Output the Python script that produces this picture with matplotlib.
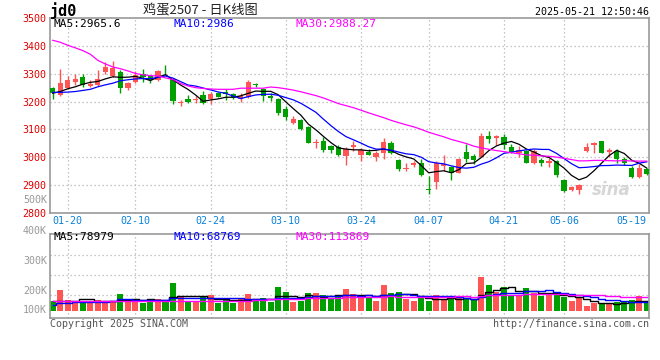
import numpy as np
import pandas as pd
import matplotlib
matplotlib.use('Agg')
import matplotlib.pyplot as plt

# trading days shown (jd2507 daily K)
dates = ['01-16', '01-17', '01-20', '01-21', '01-22', '01-23', '01-24', '01-27',
         '02-05', '02-06', '02-07', '02-10', '02-11', '02-12', '02-13', '02-14',
         '02-17', '02-18', '02-19', '02-20', '02-21', '02-24', '02-25', '02-26',
         '02-27', '02-28', '03-03', '03-04', '03-05', '03-06', '03-07', '03-10',
         '03-11', '03-12', '03-13', '03-14', '03-17', '03-18', '03-19', '03-20',
         '03-21', '03-24', '03-25', '03-26', '03-27', '03-28', '03-31', '04-01',
         '04-02', '04-03', '04-07', '04-08', '04-09', '04-10', '04-11', '04-14',
         '04-15', '04-16', '04-17', '04-18', '04-21', '04-22', '04-23', '04-24',
         '04-25', '04-28', '04-29', '04-30', '05-06', '05-07', '05-08', '05-09',
         '05-12', '05-13', '05-14', '05-15', '05-16', '05-19', '05-20', '05-21']

open_ = [3249, 3225, 3249, 3270, 3287, 3256, 3261, 3305, 3293, 3305,
         3248, 3269, 3299, 3292, 3278, 3311, 3280, 3195, 3210, 3206,
         3224, 3208, 3232, 3234, 3228, 3208, 3218, 3263, 3245, 3220,
         3209, 3172, 3124, 3134, 3110, 3053, 3057, 3040, 3036, 3005,
         3036, 3007, 3020, 3002, 3016, 3052, 2990, 2958, 2974, 2981,
         2886, 2913, 2970, 2966, 2945, 3020, 3006, 3002, 3077, 3068,
         3073, 3038, 3014, 3022, 2978, 2990, 2978, 2987, 2918, 2883,
         2883, 3024, 3044, 3057, 3018, 3024, 2993, 2962, 2928, 2957]
high = [3253, 3317, 3292, 3299, 3299, 3277, 3313, 3342, 3345, 3313,
        3270, 3310, 3316, 3295, 3312, 3330, 3285, 3205, 3224, 3220,
        3239, 3235, 3236, 3244, 3230, 3232, 3279, 3268, 3247, 3230,
        3212, 3184, 3148, 3136, 3111, 3064, 3072, 3043, 3044, 3036,
        3057, 3032, 3029, 3024, 3069, 3059, 2993, 2978, 2988, 2993,
        2933, 2985, 3008, 2968, 2996, 3046, 3012, 3088, 3094, 3080,
        3084, 3046, 3040, 3026, 3030, 2996, 2997, 2992, 2922, 2896,
        2903, 3050, 3056, 3058, 3034, 3030, 3000, 2968, 2975, 2960]
low = [3208, 3220, 3244, 3260, 3253, 3251, 3257, 3299, 3289, 3230,
       3242, 3265, 3271, 3266, 3275, 3295, 3190, 3184, 3195, 3196,
       3193, 3191, 3215, 3205, 3210, 3197, 3213, 3253, 3202, 3203,
       3153, 3134, 3119, 3098, 3050, 3032, 3020, 3016, 3004, 2973,
       3024, 2988, 3007, 2988, 2995, 3012, 2952, 2952, 2966, 2933,
       2870, 2885, 2952, 2920, 2942, 2982, 2975, 3000, 3050, 3045,
       3030, 3014, 3002, 2978, 2976, 2967, 2966, 2930, 2876, 2880,
       2868, 3020, 3014, 3015, 3002, 2978, 2972, 2927, 2925, 2938]
close = [3230, 3266, 3277, 3281, 3258, 3263, 3282, 3323, 3319, 3248,
         3266, 3296, 3290, 3277, 3310, 3309, 3203, 3199, 3197, 3210,
         3196, 3227, 3218, 3226, 3212, 3220, 3272, 3259, 3220, 3213,
         3158, 3144, 3138, 3103, 3052, 3056, 3026, 3026, 3008, 3031,
         3043, 3026, 3009, 3016, 3054, 3016, 2959, 2962, 2980, 2938,
         2883, 2980, 2977, 2944, 2993, 2994, 2990, 3076, 3067, 3076,
         3045, 3020, 3026, 2981, 3023, 2979, 2988, 2936, 2880, 2892,
         2900, 3036, 3052, 3016, 3027, 2993, 2981, 2930, 2962, 2940]
# volume in thousands of lots
volume = [89, 196, 101, 92, 92, 79, 101, 85, 85, 158,
          101, 111, 73, 92, 111, 101, 263, 127, 89, 95,
          127, 149, 73, 108, 73, 108, 158, 89, 120, 85,
          225, 180, 85, 95, 168, 168, 149, 108, 133, 206,
          158, 127, 133, 92, 244, 168, 177, 114, 92, 127,
          92, 149, 111, 108, 117, 120, 104, 320, 244, 180,
          225, 152, 152, 215, 171, 139, 149, 174, 130, 92,
          117, 44, 73, 63, 63, 82, 85, 101, 139, 70]

# moving averages before enough days are in the window
ma5_head = [3230, 3236, 3246, 3253]
ma10_head = [3233, 3233, 3234, 3236, 3240, 3244, 3253, 3260, 3266]
ma30_head = [3420, 3413, 3402, 3393, 3383, 3370, 3348, 3335, 3324, 3318,
             3310, 3301, 3296, 3293, 3292, 3285, 3279, 3265, 3256, 3250,
             3247, 3245, 3244, 3244, 3244, 3248, 3248, 3248, 3248]
vol_ma5_head = [90, 92, 92, 92]
vol_ma10_head = [54, 76, 76, 78, 80, 82, 85, 86, 88]
vol_ma30_head = [88, 88, 89, 89, 89, 90, 90, 90, 91, 91,
                 91, 92, 92, 92, 92, 93, 93, 93, 93, 94,
                 94, 94, 95, 95, 95, 96, 96, 97, 97]

label_dates = ['01-20', '02-10', '02-24', '03-10', '03-24', '04-07', '04-21', '05-06', '05-19']
price_ticks = [2800, 2900, 3000, 3100, 3200, 3300, 3400, 3500]
vol_tick_labels = ['500K', '400K', '300K', '200K', '100K']


def with_head(values, n, head):
    s = pd.Series(values, dtype=float).rolling(n).mean()
    s.iloc[:len(head)] = head
    return s.values


ma5 = with_head(close, 5, ma5_head)
ma10 = with_head(close, 10, ma10_head)
ma30 = with_head(close, 30, ma30_head)
vma5 = with_head(volume, 5, vol_ma5_head)
vma10 = with_head(volume, 10, vol_ma10_head)
vma30 = with_head(volume, 30, vol_ma30_head)

RED = '#ff5555'
GREEN = '#009f00'
GRID = '#b4b4b4'
GRID_LS = (0, (1, 2.2))
FRAME = '#999999'
MONO = 'DejaVu Sans Mono'
W, H = 660, 360


def fx(x):
    return x / W


def fy(y):
    return 1 - y / H


fig = plt.figure(figsize=(6.6, 3.6), dpi=100)
ax = fig.add_axes([fx(50), fy(213), 599 / W, 195 / H])
axv = fig.add_axes([fx(50), fy(317.7), 599 / W, 83.7 / H])

x = np.arange(len(close))
up = np.array(close) >= np.array(open_)
colors = [RED if u else GREEN for u in up]
label_idx = [dates.index(d) for d in label_dates]

# ---- price panel
for yv in price_ticks[1:-1]:
    ax.axhline(yv, color=GRID, lw=0.9, ls=GRID_LS, zorder=0)
for i in label_idx[:-1]:
    ax.axvline(i, color=GRID, lw=0.9, ls=GRID_LS, zorder=0)

ax.vlines(x, low, high, colors=colors, lw=1, zorder=2)
body_lo = np.minimum(open_, close)
body_h = np.maximum(np.abs(np.array(close) - np.array(open_)), 2.5)
ax.bar(x, body_h, bottom=body_lo, width=0.7, color=colors, zorder=3)

ax.plot(x, ma5, color='black', lw=0.9, zorder=4)
ax.plot(x, ma10, color='#0000ff', lw=0.9, zorder=4)
ax.plot(x, ma30, color='#ff00ff', lw=0.9, zorder=4)

ax.set_xlim(-0.36, 79.3)
ax.set_ylim(2800, 3500)
ax.set_yticks(price_ticks)
ax.set_yticklabels([str(p) for p in price_ticks], color='#e00000',
                   fontsize=7.2, family=MONO)
ax.set_xticks(label_idx)
ax.set_xticklabels(label_dates, color='#0a80d8', fontsize=7.2, family=MONO)
ax.tick_params(length=0, pad=2.5)
for sp in ax.spines.values():
    sp.set_color(FRAME)
    sp.set_linewidth(1.2)

ax.text(0.97, 0.07, 'sina', transform=ax.transAxes, ha='right', va='bottom',
        fontsize=12, style='italic', weight='bold', color='#d6d6d6', zorder=1)

# ---- volume panel
vlo, vhi = -66.5, 728.7
for f in [0.267, 0.506, 0.745]:
    axv.axhline(vlo + f * (vhi - vlo), color=GRID, lw=0.9, ls=GRID_LS, zorder=0)
for i in label_idx[:-1]:
    axv.axvline(i, color=GRID, lw=0.9, ls=GRID_LS, zorder=0)

axv.bar(x, volume, width=0.8, color=colors, zorder=2)
axv.plot(x, vma5, color='black', lw=1, drawstyle='steps-mid', zorder=3)
axv.plot(x, vma10, color='#0000ff', lw=1, drawstyle='steps-mid', zorder=3)
axv.plot(x, vma30, color='#ff00ff', lw=1, drawstyle='steps-mid', zorder=3)
axv.set_xlim(-0.36, 79.3)
axv.set_ylim(vlo, vhi)
axv.set_xticks([])
axv.set_yticks([])
for sp in axv.spines.values():
    sp.set_color(FRAME)
    sp.set_linewidth(1.2)

for lab, yp in zip(vol_tick_labels, [200, 231, 260.7, 290.7, 310]):
    fig.text(fx(47), fy(yp), lab, ha='right', va='center', fontsize=7.2,
             family=MONO, color='#999999')

# ---- header and legends
fig.text(fx(50), fy(11), 'jd0', ha='left', va='center', fontsize=11,
         family=MONO, weight='bold', color='black')
fig.text(fx(200), fy(11), '鸡蛋2507 - 日K线图', ha='center', va='center',
         fontsize=9.5, family=['Noto Sans CJK SC', 'DejaVu Sans'], color='#222222')
fig.text(fx(649), fy(12), '2025-05-21 12:50:46', ha='right', va='center',
         fontsize=7.2, family=MONO, color='black')

fig.text(fx(54), fy(24), 'MA5:2965.6', ha='left', va='center', fontsize=8, family=MONO, color='black')
fig.text(fx(174), fy(24), 'MA10:2986', ha='left', va='center', fontsize=8, family=MONO, color='#0000ff')
fig.text(fx(295), fy(24), 'MA30:2988.27', ha='left', va='center', fontsize=8, family=MONO, color='#ff00ff')

fig.text(fx(54), fy(237.5), 'MA5:78979', ha='left', va='center', fontsize=8, family=MONO, color='black')
fig.text(fx(174), fy(237.5), 'MA10:68769', ha='left', va='center', fontsize=8, family=MONO, color='#0000ff')
fig.text(fx(295), fy(237.5), 'MA30:113869', ha='left', va='center', fontsize=8, family=MONO, color='#ff00ff')

fig.text(fx(50), fy(324), 'Copyright 2025 SINA.COM', ha='left', va='center',
         fontsize=7.2, family=MONO, color='#555555')
fig.text(fx(649), fy(324), 'http://finance.sina.com.cn', ha='right', va='center',
         fontsize=7.2, family=MONO, color='#555555')

fig.savefig('out.png', dpi=100, facecolor='white')
